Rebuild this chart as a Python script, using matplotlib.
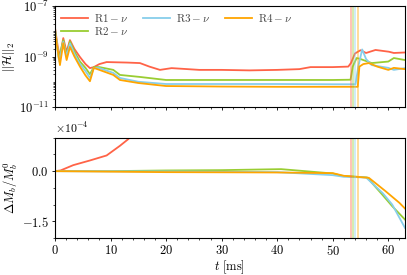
import numpy as np
import matplotlib
matplotlib.use("Agg")
import matplotlib.pyplot as plt
from matplotlib.ticker import MultipleLocator, LogLocator, ScalarFormatter, NullFormatter

plt.rcParams['font.family'] = 'serif'
plt.rcParams['font.serif'] = ['cmr10', 'DejaVu Serif']
plt.rcParams['mathtext.fontset'] = 'cm'
plt.rcParams['axes.formatter.use_mathtext'] = True
plt.rcParams['axes.unicode_minus'] = True

labels = [r'$\mathrm{R1}-\nu$', r'$\mathrm{R2}-\nu$', r'$\mathrm{R3}-\nu$', r'$\mathrm{R4}-\nu$']
colors = ['tomato', 'yellowgreen', 'skyblue', 'orange']

# top panel: log10 of ||H||_2
t_h1 = [0, 0.5, 0.9, 1.5, 2.1, 2.7, 3.5, 4.5, 5.5, 6.3, 7.0, 8.0, 9.3, 13, 15.3, 17, 18.9, 21, 26,
        30, 35, 40, 44, 46, 50, 52.8, 53.3, 54, 55, 56, 57.7, 60.1, 61, 63]
h1 = [-7.85, -8.6, -9.0, -8.27, -8.82, -8.35, -8.7, -9.02, -9.3, -9.46, -9.42, -9.3, -9.22, -9.24,
      -9.26, -9.4, -9.53, -9.46, -9.53, -9.53, -9.55, -9.53, -9.5, -9.42, -9.42, -9.4, -9.25, -8.88,
      -8.75, -8.86, -8.74, -8.81, -8.86, -8.84]
t_h2 = [0, 0.7, 1.5, 2.1, 2.7, 3.5, 4.5, 5.5, 6.3, 7.0, 8, 10.5, 11.7, 15.3, 20, 30, 40, 50, 53.2,
        53.6, 54.3, 55, 57, 60, 61, 63]
h2 = [-7.9, -9.1, -8.35, -8.95, -8.4, -8.8, -9.2, -9.45, -9.7, -9.42, -9.42, -9.53, -9.73, -9.81,
      -9.93, -9.93, -9.93, -9.93, -9.92, -9.4, -9.06, -9.1, -9.26, -9.2, -9.06, -9.14]
t_h3 = [0, 0.8, 1.5, 2.1, 2.7, 3.5, 4.5, 5.5, 6.3, 7, 8, 10.5, 11.7, 15, 20, 30, 40, 50, 54.1,
        54.6, 55.3, 56, 57, 60, 61, 63]
h3 = [-7.95, -9.2, -8.42, -9.0, -8.48, -8.9, -9.3, -9.58, -9.85, -9.45, -9.46, -9.65, -9.85, -10.0,
      -10.09, -10.09, -10.09, -10.1, -10.1, -9.4, -8.72, -9.1, -9.34, -9.45, -9.53, -9.46]
t_h4 = [0, 0.9, 1.5, 2.1, 2.7, 3.5, 4.5, 5.5, 6.3, 7, 8, 10.5, 11.7, 15, 20, 30, 40, 50, 54.5,
        54.8, 55.5, 56.5, 58, 60, 61, 63]
h4 = [-8.0, -9.34, -8.47, -9.14, -8.62, -9.0, -9.4, -9.75, -9.98, -9.45, -9.53, -9.73, -9.93, -10.05,
      -10.17, -10.19, -10.2, -10.2, -10.2, -9.4, -9.3, -9.26, -9.4, -9.53, -9.45, -9.5]

# bottom panel: Delta M_b / M_b^0 in units of 1e-4
t_m1 = [0, 1, 3.3, 6.3, 9.3, 11.7, 13.2, 14.5]
m1 = [0, 0.02, 0.18, 0.32, 0.47, 0.76, 0.96, 1.2]
t_m2 = [0, 10, 20, 30, 40.7, 45, 50, 51.7, 56.2, 59, 60.7, 63]
m2 = [0, 0.0, 0.02, 0.03, 0.06, 0.0, -0.07, -0.14, -0.19, -0.72, -1.05, -1.45]
t_m3 = [0, 20, 40, 50, 52, 56, 59, 60.7, 63]
m3 = [0, -0.01, -0.03, -0.12, -0.17, -0.19, -0.66, -1.0, -1.7]
t_m4 = [0, 20, 40, 50, 52, 56.5, 59.5, 62, 63]
m4 = [0, -0.03, -0.04, -0.06, -0.14, -0.2, -0.6, -0.95, -1.12]

# merger times per run
t_merge = [53.3, 53.6, 54.0, 54.6]

fig = plt.figure(figsize=(4.07, 2.75), dpi=100)
ax1 = fig.add_axes([0.135, 0.611, 0.86, 0.367])
ax2 = fig.add_axes([0.135, 0.135, 0.86, 0.364], sharex=ax1)

for tt, hh, c, lab in zip([t_h1, t_h2, t_h3, t_h4], [h1, h2, h3, h4], colors, labels):
    ax1.plot(tt, 10 ** np.array(hh), color=c, lw=1.3, label=lab)
for tt, mm, c in zip([t_m1, t_m2, t_m3, t_m4], [m1, m2, m3, m4], colors):
    ax2.plot(tt, np.array(mm) * 1e-4, color=c, lw=1.3)

for ax in (ax1, ax2):
    for tm, c in zip(t_merge, colors):
        ax.axvline(tm, color=c, lw=1.1, alpha=0.5)
    ax.tick_params(labelsize=9, length=2.5, width=0.6, pad=2)
    ax.tick_params(which='minor', length=1.5, width=0.5)
    ax.xaxis.set_major_locator(MultipleLocator(10))
    ax.xaxis.set_minor_locator(MultipleLocator(2))
    for s in ax.spines.values():
        s.set_linewidth(0.8)

ax1.set_yscale('log')
ax1.set_ylim(1e-11, 1e-7)
ax1.set_yticks([1e-11, 1e-9, 1e-7])
ax1.yaxis.set_minor_locator(LogLocator(base=10, subs=np.arange(1, 10), numticks=20))
ax1.yaxis.set_minor_formatter(NullFormatter())
ax1.set_xlim(0, 63)
ax1.tick_params(labelbottom=False)
ax1.set_ylabel(r'$||\mathcal{H}||_2$', fontsize=9, labelpad=1)
ax1.legend(loc='upper left', ncol=3, frameon=False, fontsize=8, handlelength=2.4,
           borderaxespad=0.15, columnspacing=1.3, labelspacing=0.05, handletextpad=0.6,
           labelcolor='#444444')

ax2.set_ylim(-2e-4, 1e-4)
ax2.yaxis.set_major_locator(MultipleLocator(1.5e-4))
ax2.yaxis.set_minor_locator(MultipleLocator(0.5e-4))
fmt = ScalarFormatter(useMathText=True)
fmt.set_powerlimits((-3, 3))
ax2.yaxis.set_major_formatter(fmt)
ax2.yaxis.get_offset_text().set_fontsize(8.5)
ax2.set_ylabel(r'$\Delta M_b/M_b^0$', fontsize=9, labelpad=1)
ax2.set_xlabel(r'$t\ [\mathrm{ms}]$', fontsize=9, labelpad=0)

fig.savefig('out.png', dpi=100)
